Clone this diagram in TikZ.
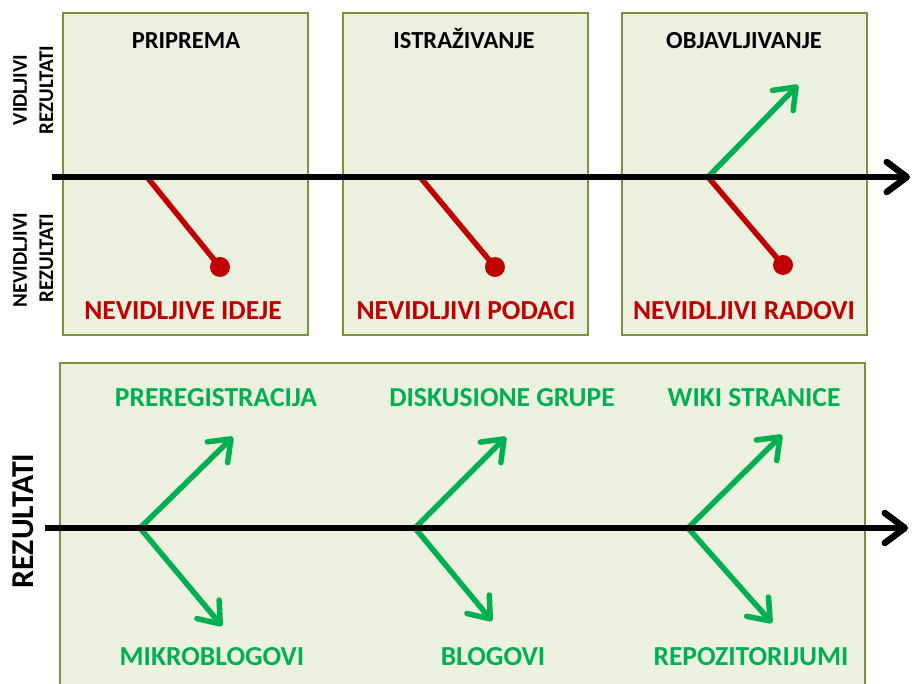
\documentclass[tikz,border=0pt]{standalone}
\usepackage{fontspec}
\setmainfont{Carlito}
\usetikzlibrary{arrows.meta}
\definecolor{boxfill}{HTML}{EBF1DE}
\definecolor{boxline}{HTML}{77933C}
\definecolor{redc}{HTML}{C00000}
\definecolor{greenc}{HTML}{00B050}
\tikzset{
 panelbox/.style={fill=boxfill, draw=boxline, line width=2pt},
 axisline/.style={line width=6.5pt, black, -{Straight Barb[length=20pt,width=30pt,round]}},
 greenarrow/.style={line width=5.5pt, greenc, -{Straight Barb[length=19pt,width=29pt,round]}},
 redline/.style={line width=5.5pt, redc},
 reddot/.style={circle, fill=redc, inner sep=0pt, minimum size=20pt},
 phasetitle/.style={font=\bfseries\fontsize{24.5}{28}\selectfont, anchor=base},
 redlabel/.style={font=\bfseries\fontsize{27.5}{30}\selectfont, text=redc, anchor=base},
 greenlabel/.style={font=\bfseries\fontsize{27.5}{30}\selectfont, text=greenc, anchor=base},
 sidelabel/.style={font=\bfseries\fontsize{20.9}{24}\selectfont, rotate=90, anchor=base},
 biglabel/.style={font=\bfseries\fontsize{31.8}{36}\selectfont, rotate=90, anchor=base},
}
\begin{document}
\begin{tikzpicture}[x=1pt,y=-1pt]
\useasboundingbox (0,0) rectangle (914,684);
\clip (0,0) rectangle (914,684);
\fill[white] (0,0) rectangle (914,684);
% panels
\draw[panelbox] (63,13) rectangle (308,335);
\draw[panelbox] (343,13) rectangle (588,335);
\draw[panelbox] (622,13) rectangle (867,335);
\draw[panelbox] (60,363) rectangle (865,700);
% titles
\node[phasetitle] (t1) at (186,49) {PRIPREMA};
\node[phasetitle] (t2) at (464,49) {ISTRAŽIVANJE};
\node[phasetitle] (t3) at (744,49) {OBJAVLJIVANJE};
% side labels
\node[sidelabel] (v1) at (27,90) {VIDLJIVI};
\node[sidelabel] (v2) at (53,90) {REZULTATI};
\node[sidelabel] (n1) at (27,260) {NEVIDLJIVI};
\node[sidelabel] (n2) at (53,258) {REZULTATI};
\node[biglabel] (big) at (33,521) {REZULTATI};
% top axis
\coordinate (a1s) at (52,177);
\coordinate (a1e) at (910,177);
\coordinate (j1) at (147,177);
\coordinate (j2) at (420,177);
\coordinate (j3) at (708,177);
\coordinate (d1c) at (220,267);
\coordinate (d2c) at (495,267);
\coordinate (d3c) at (783,265);
\coordinate (g3) at (798,85);
\draw[redline] (j1) -- (d1c);
\draw[redline] (j2) -- (d2c);
\draw[redline] (j3) -- (d3c);
\node[reddot] (d1) at (d1c) {};
\node[reddot] (d2) at (d2c) {};
\node[reddot] (d3) at (d3c) {};
\draw[greenarrow] (j3) -- (g3);
\draw[axisline] (a1s) -- (a1e);
% red labels
\node[redlabel] (r1) at (183,320) {NEVIDLJIVE IDEJE};
\node[redlabel] (r2) at (466,320) {NEVIDLJIVI PODACI};
\node[redlabel] (r3) at (744,320) {NEVIDLJIVI RADOVI};
% bottom axis
\coordinate (b1s) at (45,528);
\coordinate (b1e) at (908,528);
\coordinate (k1) at (140,528);
\coordinate (k2) at (415,528);
\coordinate (k3) at (688,528);
\coordinate (u1) at (233,437);
\coordinate (u2) at (506,437);
\coordinate (u3) at (782,435);
\coordinate (w1) at (222,626);
\coordinate (w2) at (492,621);
\coordinate (w3) at (772,623);
\draw[greenarrow] (k1) -- (u1);
\draw[greenarrow] (k1) -- (w1);
\draw[greenarrow] (k2) -- (u2);
\draw[greenarrow] (k2) -- (w2);
\draw[greenarrow] (k3) -- (u3);
\draw[greenarrow] (k3) -- (w3);
\draw[axisline] (b1s) -- (b1e);
% green labels
\node[greenlabel] (l1) at (216,407) {PREREGISTRACIJA};
\node[greenlabel] (l2) at (502,407) {DISKUSIONE GRUPE};
\node[greenlabel] (l3) at (754,407) {WIKI STRANICE};
\node[greenlabel] (m1) at (212,665) {MIKROBLOGOVI};
\node[greenlabel] (m2) at (493,665) {BLOGOVI};
\node[greenlabel] (m3) at (751,665) {REPOZITORIJUMI};
\end{tikzpicture}
\end{document}
